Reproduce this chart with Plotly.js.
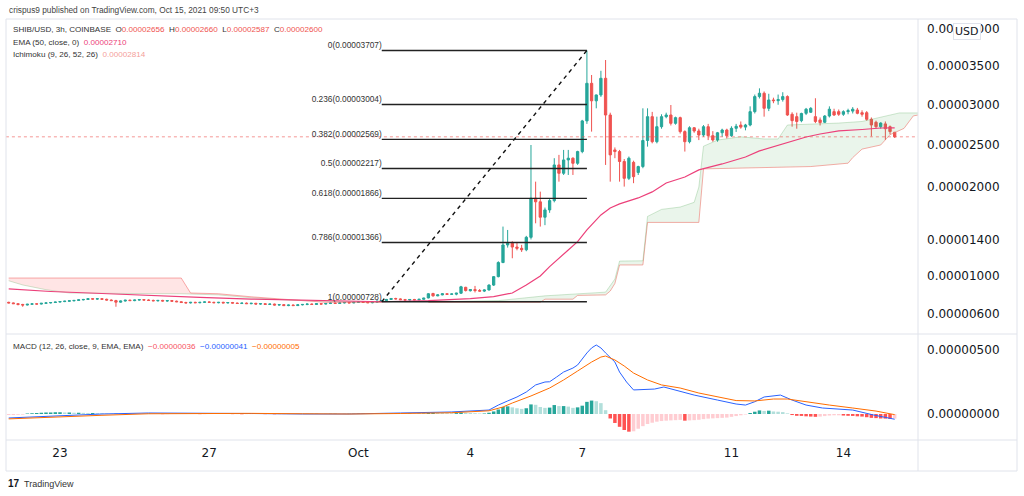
<!DOCTYPE html>
<html><head><meta charset="utf-8">
<script src="https://cdn.plot.ly/plotly-3.0.1.min.js"></script>
<style>html,body{margin:0;padding:0;background:#fff;}#chart{width:1024px;height:496px;}</style>
</head><body><div id="chart"></div>
<script>
// ---- DATA (prices in units of 1e-8 USD), 3h candles starting 2021-09-21 15:00 (UTC+3) ----
const openP = [722,716,708,700,694,702,706,704,712,716,720,725,730,734,738,742,748,752,760,756,760,754,746,740,724,736,744,740,746,750,746,742,738,742,736,740,734,728,720,716,722,718,722,726,722,718,722,716,720,714,710,714,708,712,704,708,700,704,694,698,688,694,688,696,700,704,700,708,704,710,714,710,716,720,716,722,726,722,718,724,734,740,752,762,758,750,746,752,748,754,768,815,790,800,812,806,808,818,880,844,856,846,840,852,904,994,1146,1339,1357,1316,1302,1286,1424,1868,1826,1650,1733,1840,2259,2160,2319,2340,2279,2420,2797,3275,3050,3125,3340,2871,2440,2420,2300,2100,2290,2170,2240,2555,2850,2540,2725,2850,2871,2767,2838,2664,2540,2712,2672,2622,2725,2614,2561,2650,2684,2614,2705,2745,2720,2746,2913,3104,3147,2955,3061,3052,3066,3104,2880,2850,2800,2892,2905,2850,2809,2780,2858,2913,2913,2880,2913,2920,2934,2900,2900,2817,2780,2725,2760,2725,2656];
const highP = [728,720,712,706,706,710,712,714,720,724,728,734,738,742,746,752,758,766,766,764,766,760,752,748,740,748,752,750,754,756,754,750,746,748,744,746,740,734,728,726,728,726,730,732,728,726,728,724,726,720,718,720,716,716,712,712,708,708,702,702,698,700,700,704,708,710,712,714,714,718,720,720,724,726,726,730,734,730,728,738,746,758,768,770,764,758,756,758,756,770,818,822,806,816,818,814,822,896,886,860,895,862,858,912,1000,1160,1544,1506,1380,1372,1340,1440,2500,2061,1944,1760,1860,2340,2380,2440,2440,2350,2430,2810,3707,3383,3130,3438,3580,2900,2470,2440,2330,2360,2310,2250,2955,2955,2910,2850,2880,2900,2997,2850,2850,2680,2730,2720,2700,2745,2760,2670,2660,2700,2700,2730,2760,2790,2760,2980,3130,3210,3170,3140,3090,3130,3160,3120,2905,2900,2900,2960,2970,3083,2840,2870,2980,2950,2940,2930,2950,2970,2960,2930,2920,2840,2800,2780,2790,2740,2660];
const lowP = [712,705,690,676,690,697,700,700,708,710,715,720,724,728,732,736,742,748,750,748,750,742,736,676,718,730,738,734,740,742,738,734,730,732,728,730,724,716,712,710,714,712,716,718,714,712,714,710,712,706,704,706,702,700,698,696,694,690,686,684,682,684,684,690,692,694,696,700,700,704,706,706,710,712,712,716,718,714,712,720,728,736,748,752,746,742,740,744,742,750,764,782,786,796,800,800,796,810,836,836,826,836,830,846,894,986,1140,1310,1193,1280,1262,1270,1400,1581,1544,1560,1700,1820,2061,2140,2140,2140,2260,2400,2760,2664,2955,3100,2259,2061,2340,2061,2003,2080,2043,2140,2220,2480,2520,2520,2700,2830,2740,2750,2640,2420,2520,2650,2560,2600,2560,2540,2540,2600,2580,2600,2660,2700,2680,2730,2890,3080,2850,2920,3020,3000,3040,2860,2725,2700,2780,2870,2900,2770,2740,2770,2840,2860,2860,2860,2880,2890,2880,2850,2800,2605,2700,2700,2561,2630,2587];
const closeP = [716,708,700,694,702,706,704,712,716,720,725,730,734,738,742,748,752,760,756,760,754,746,740,724,736,744,740,746,750,746,742,738,742,736,740,734,728,720,716,722,718,722,726,722,718,722,716,720,714,710,714,708,712,704,708,700,704,694,698,688,694,688,696,700,704,700,708,704,710,714,710,716,720,716,722,726,722,718,724,734,740,752,762,758,750,746,752,748,754,766,812,790,800,812,806,810,818,886,846,856,846,840,852,904,994,1146,1339,1357,1316,1302,1286,1424,1868,1826,1650,1733,1840,2259,2160,2319,2340,2279,2420,2797,3275,3050,3125,3340,2871,2380,2420,2300,2100,2340,2120,2240,2555,2850,2540,2725,2850,2871,2767,2838,2664,2540,2712,2672,2622,2725,2614,2561,2650,2684,2614,2705,2730,2720,2746,2913,3104,3147,2955,3061,3052,3066,3104,2871,2800,2790,2890,2944,2955,2790,2776,2858,2944,2871,2880,2913,2925,2944,2892,2880,2817,2746,2725,2770,2700,2664,2600];

// EMA(50): candle index / value
const emaIdx = [0,9,20,30,41,52,63,71,80,90,99,104,108,111,114,116,118,120,122,124,127,129,131,135,138,141,145,148,153,158,161,164,168,171,174,178,183,187,190];
const emaVal = [863,836,815,794,775,756,742,732,728,740,761,781,820,905,1001,1102,1197,1284,1375,1506,1676,1756,1802,1871,1941,2045,2116,2200,2271,2355,2428,2476,2549,2598,2635,2672,2690,2709,2710];

// Ichimoku leading spans (drawn ahead of price), candle index / value
const spanAIdx = [0,3,8,13,25,37,45,52,60,70,80,90,105,115,122,128,130,131,136,137,140,144,147,148,149,152,157,162,165,167,178,183,191,196];
const spanAVal = [950,905,855,820,815,812,800,770,745,730,725,728,740,790,815,829,968,1162,1165,1659,1739,1766,1820,1997,2485,2560,2600,2574,2574,2746,2770,2790,2897,2897];
const spanBIdx = [0,37,39,45,52,63,68,80,90,105,114,115,121,122,128,129,130,131,136,137,148,149,172,180,181,183,187,189,192,194,196];
const spanBVal = [979,979,820,812,780,738,722,722,722,722,722,755,755,795,800,841,921,1120,1120,1591,1591,2212,2240,2280,2347,2450,2500,2626,2704,2860,2880];

// MACD (12,26,9) histogram per candle, MACD line and signal line samples
const macdHist = [-8,-8,-6,-5,4,6,8,10,12,12,14,14,12,12,10,10,9,8,8,7,6,4,3,3,2,2,1,1,0,1,2,1,0,-1,-1,0,1,1,2,1,0,-1,-1,0,0,1,1,0,-1,-1,-2,-1,-1,0,0,-1,-1,-2,-2,-1,-1,0,1,1,1,2,2,1,1,2,2,1,1,2,2,3,3,2,2,3,4,5,6,6,5,4,4,3,3,4,8,10,9,8,7,6,7,12,10,8,6,4,4,10,20,35,55,60,52,45,40,45,75,72,55,48,50,70,62,62,58,48,52,65,95,105,100,85,30,-35,-70,-100,-125,-138,-135,-115,-95,-78,-68,-60,-55,-52,-50,-48,-46,-52,-50,-48,-45,-40,-36,-34,-32,-30,-28,-22,-16,-10,-4,8,18,28,24,26,20,18,15,5,-8,-14,-15,-18,-20,-22,-20,-16,-12,-10,-10,-12,-14,-15,-18,-20,-25,-30,-32,-35,-36,-38,-36];
const macdIdx = [0,9,20,30,41,52,63,73,84,95,103,105,107,109,111,113,115,116,117.5,119,121,122,124,125,126,127,128,130,131,132.5,134,136.5,138.5,140.5,143,147,152,156,158,160,162,164,165.5,168,171,174.5,181,185.5,190];
const macdVal = [-31,-16,0,8,8,4,0,0,8,16,31,70,102,133,172,227,250,252,289,328,359,383,477,516,539,516,477,406,328,250,188,195,195,211,188,148,109,78,70,96,133,141,148,109,70,47,31,-8,-41];
const sigIdx = [0,9,20,30,41,52,63,73,84,95,103,106,108,112,116,119,122,125,127,128,130,132,134,137,140,144,148,152,156,160,164,167,171,176,181,186,190];
const sigVal = [-38,-28,-10,2,6,5,2,0,4,10,25,55,86,141,203,266,336,406,445,453,422,375,320,266,227,203,164,133,105,102,117,117,94,70,47,23,-5];

// Fibonacci retracement
const fibRatios = ['0','0.236','0.382','0.5','0.618','0.786','1'];
const fibPrices = [3707,3004,2569,2217,1866,1366,728];
const fibFromIdx = 80, fibToIdx = 124;
const lastPrice = 2600;

// Axis ticks
const priceTicks = [600,1000,1400,2000,2500,3000,3500,4000];
const macdTicks = [0,500];
const dateTicks = ['2021-09-23','2021-09-27','2021-10-01','2021-10-04','2021-10-07','2021-10-11','2021-10-14'];
const dateTickText = ['23','27','Oct','4','7','11','14'];

// ---- helpers ----
const OFF = 1e-4;                       // TradingView-like log offset
const pv = u => u*1e-8 + OFF;            // price units -> plotted value
const t0 = Date.UTC(2021,8,21,15);
const t = i => new Date(t0 + i*3*3600e3).toISOString().replace('T',' ').slice(0,19);
const times = openP.map((_,i)=>t(i));
const X = p => (p-6)/912, Y = p => (440-p)/421;
const fmt8 = u => (u*1e-8).toFixed(8);

const traces = [];
const segA = (lo,hi)=>spanAIdx.map((k,j)=>[k,spanAVal[j]]).filter(d=>d[0]>=lo&&d[0]<=hi);
const segB = (lo,hi)=>spanBIdx.map((k,j)=>[k,spanBVal[j]]).filter(d=>d[0]>=lo&&d[0]<=hi);
let a1=segA(0,80), b1=segB(0,80), a2=segA(90,196), b2=segB(90,196);
traces.push({type:'scatter',mode:'lines',x:a1.map(d=>t(d[0])),y:a1.map(d=>pv(d[1])),line:{color:'rgba(67,160,71,0.25)',width:1},hoverinfo:'skip'});
traces.push({type:'scatter',mode:'lines',x:b1.map(d=>t(d[0])),y:b1.map(d=>pv(d[1])),line:{color:'rgba(242,90,90,0.5)',width:1},fill:'tonexty',fillcolor:'rgba(255,82,82,0.15)',hoverinfo:'skip'});
traces.push({type:'scatter',mode:'lines',x:b2.map(d=>t(d[0])),y:b2.map(d=>pv(d[1])),line:{color:'rgba(236,120,110,0.6)',width:1},hoverinfo:'skip'});
traces.push({type:'scatter',mode:'lines',x:a2.map(d=>t(d[0])),y:a2.map(d=>pv(d[1])),line:{color:'rgba(67,160,71,0.25)',width:1},fill:'tonexty',fillcolor:'rgba(67,160,71,0.11)',hoverinfo:'skip'});

traces.push({type:'candlestick',x:times,open:openP.map(pv),high:highP.map(pv),low:lowP.map(pv),close:closeP.map(pv),
  increasing:{line:{color:'#26a69a',width:1},fillcolor:'#26a69a'},
  decreasing:{line:{color:'#ef5350',width:1},fillcolor:'#ef5350'},whiskerwidth:0,hoverinfo:'skip'});

traces.push({type:'scatter',mode:'lines',x:emaIdx.map(t),y:emaVal.map(pv),line:{color:'#ec407a',width:1.2},hoverinfo:'skip'});

traces.push({type:'scatter',mode:'lines',x:[t(-0.6),t(195.1)],y:[pv(lastPrice),pv(lastPrice)],line:{color:'rgba(239,83,80,0.6)',width:1,dash:'dot'},hoverinfo:'skip'});

fibPrices.forEach(p=>{
  traces.push({type:'scatter',mode:'lines',x:[t(fibFromIdx),t(fibToIdx)],y:[pv(p),pv(p)],line:{color:'#222',width:1.4},hoverinfo:'skip'});
});
traces.push({type:'scatter',mode:'lines',x:[t(fibFromIdx),t(fibToIdx)],y:[pv(fibPrices[6]),pv(fibPrices[0])],line:{color:'#111',width:1.4,dash:'4px,4px'},hoverinfo:'skip'});
traces.push({type:'scatter',mode:'text',x:fibPrices.map(()=>t(fibFromIdx)),y:fibPrices.map(pv),
  text:fibRatios.map((r,j)=>r+'('+fmt8(fibPrices[j])+')'),textposition:'top left',
  textfont:{family:'Liberation Sans, Arial, sans-serif',size:8.3,color:'#333'},hoverinfo:'skip'});

const histCol = macdHist.map((v,i)=>{const p=i>0?macdHist[i-1]:v;
  if(v>=0) return v>=p?'#26a69a':'#b2dfdb'; return v<p?'#ff5252':'#ffcdd2';});
traces.push({type:'bar',x:times,y:macdHist,yaxis:'y2',marker:{color:histCol,line:{width:0}},hoverinfo:'skip'});
traces.push({type:'scatter',mode:'lines',x:macdIdx.map(t),y:macdVal,yaxis:'y2',line:{color:'#2962ff',width:1},hoverinfo:'skip'});
traces.push({type:'scatter',mode:'lines',x:sigIdx.map(t),y:sigVal,yaxis:'y2',line:{color:'#ff6d00',width:1},hoverinfo:'skip'});

const axFont = {family:'DejaVu Sans, sans-serif',size:12,color:'#131722'};
const red='#ef5350';
const sp = '\u00a0\u00a0';
const ann = (px,py,text,size,color,extra)=>Object.assign({xref:'paper',yref:'paper',x:X(px),y:Y(py),text:text,showarrow:false,xanchor:'left',yanchor:'middle',
  font:{family:'Liberation Sans, Arial, sans-serif',size:size,color:color}},extra||{});
const C=(c,s)=>'<span style="color:'+c+'">'+s+'</span>';

const annotations = [
  ann(7,10,'crispus9 published on TradingView.com, Oct 15, 2021 09:50 UTC+3',8.3,'#444'),
  ann(11,30,'SHIB/USD, 3h, COINBASE'+sp+'O'+C(red,fmt8(openP[190]))+sp+'H'+C(red,fmt8(highP[190]))+sp+'L'+C(red,fmt8(lowP[190]))+sp+'C'+C(red,fmt8(closeP[190])),8.1,'#333'),
  ann(11,43,'EMA (50, close, 0)'+sp+C('#ec407a',fmt8(emaVal[emaVal.length-1])),8.1,'#333'),
  ann(11,54,'Ichimoku (9, 26, 52, 26)'+sp+C('#f4a09a','0.00002814'),8.1,'#333'),
  ann(11,346,'MACD (12, 26, close, 9, EMA, EMA)'+sp+C('#f7525f','\u22120.00000036')+sp+C('#2962ff','\u22120.00000041')+sp+C('#ff6d00','\u22120.00000005'),8.1,'#333'),
  ann(967,32,'USD',11,'#131722',{xanchor:'center',bgcolor:'#ffffff',bordercolor:'#e0e3eb',borderwidth:1,borderpad:1,font:{family:'DejaVu Sans, sans-serif',size:11,color:'#131722'}}),
  ann(6,484,'<b>17</b>',10,'#131722'),
  ann(22,484,'TradingView',9,'#333')
];

const bc = '#e0e3eb';
const L = (x0,y0,x1,y1)=>({type:'line',xref:'paper',yref:'paper',x0:X(x0),y0:Y(y0),x1:X(x1),y1:Y(y1),line:{color:bc,width:1}});
const shapes = [L(6,19,1017,19),L(6,471,1017,471),L(6,19,6,471),L(1017,19,1017,471),L(918,19,918,471),L(6,334,1017,334),L(6,440,1017,440)];

const layout = {
  width:1024,height:496,margin:{l:6,r:106,t:19,b:56},paper_bgcolor:'#fff',plot_bgcolor:'#fff',
  showlegend:false,hovermode:false,bargap:0.25,dragmode:false,
  xaxis:{type:'date',range:[t(-0.58),t(195.0)],anchor:'y2',tickvals:dateTicks,ticktext:dateTickText,ticks:'',showgrid:false,zeroline:false,showline:false,
    tickfont:axFont,ticklabelstandoff:4,rangeslider:{visible:false}},
  yaxis:{type:'log',domain:[106/421,1],range:[Math.log10(pv(396)),Math.log10(pv(4134))],side:'right',anchor:'x',
    tickvals:priceTicks.map(pv),ticktext:priceTicks.map(fmt8),ticks:'',showgrid:false,zeroline:false,showline:false,tickfont:axFont,ticklabelstandoff:8},
  yaxis2:{domain:[0,106/421],range:[-203,625],side:'right',anchor:'x',tickvals:macdTicks,ticktext:macdTicks.map(fmt8),ticks:'',showgrid:false,zeroline:false,showline:false,tickfont:axFont,ticklabelstandoff:8},
  annotations:annotations,shapes:shapes
};
Plotly.newPlot('chart',traces,layout,{displayModeBar:false,staticPlot:true});
</script></body></html>
